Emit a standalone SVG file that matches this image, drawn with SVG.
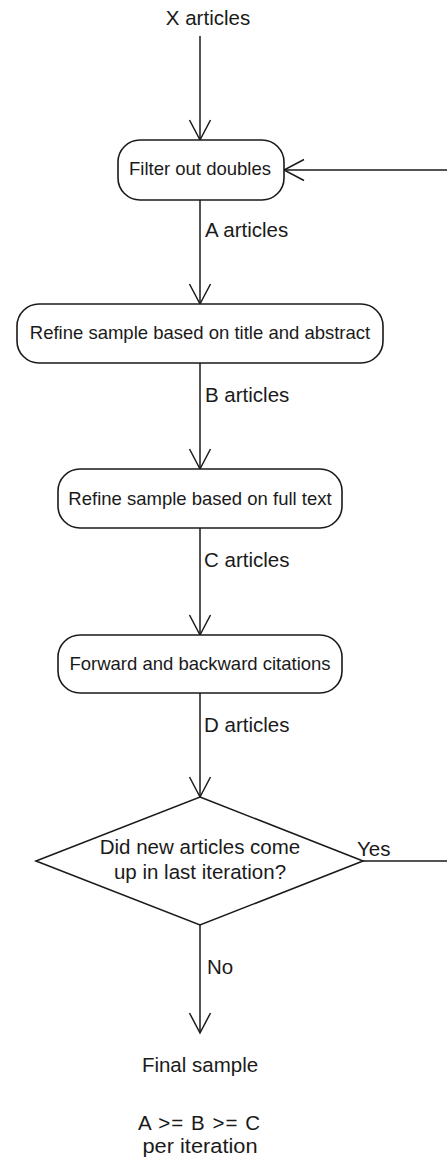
<svg xmlns="http://www.w3.org/2000/svg" width="447" height="1159" viewBox="0 0 447 1159">
<style>
.t{font-family:"Liberation Sans",Arial,sans-serif;font-size:20.5px;fill:#1a1a1a}
.b{font-size:18.5px}
.c{text-anchor:middle}
.n{fill:#fff;stroke:#1a1a1a;stroke-width:1.6}
.e{fill:none;stroke:#1a1a1a;stroke-width:1.5}
</style>
<defs>
<marker id="ah" markerWidth="24" markerHeight="24" refX="21" refY="12" orient="auto" markerUnits="userSpaceOnUse">
<path d="M1,1.5 L21,12 L1,22.5" fill="none" stroke="#1a1a1a" stroke-width="1.5"/>
</marker>
</defs>
<g id="connectors">
<line class="e" x1="200" y1="36" x2="200" y2="140" marker-end="url(#ah)"/>
<line class="e" x1="200" y1="200" x2="200" y2="304" marker-end="url(#ah)"/>
<line class="e" x1="200" y1="363" x2="200" y2="469" marker-end="url(#ah)"/>
<line class="e" x1="200" y1="528" x2="200" y2="635" marker-end="url(#ah)"/>
<line class="e" x1="200" y1="693" x2="200" y2="797" marker-end="url(#ah)"/>
<line class="e" x1="200" y1="925" x2="200" y2="1033" marker-end="url(#ah)"/>
<line class="e" x1="363" y1="861" x2="447" y2="861"/>
<line class="e" x1="447" y1="170" x2="284" y2="170" marker-end="url(#ah)"/>
<text class="t" x="205" y="237">A articles</text>
<text class="t" x="205" y="402">B articles</text>
<text class="t" x="204" y="567">C articles</text>
<text class="t" x="204" y="732">D articles</text>
<text class="t" x="357" y="856">Yes</text>
<text class="t" x="207" y="974">No</text>
</g>
<g id="start"><text class="t c" x="208" y="25">X articles</text></g>
<g id="filter">
<rect class="n" x="118" y="140" width="166" height="60" rx="22"/>
<text class="t b c" x="200" y="175">Filter out doubles</text>
</g>
<g id="refine-title">
<rect class="n" x="17" y="304" width="366" height="59" rx="22"/>
<text class="t b c" x="200" y="339">Refine sample based on title and abstract</text>
</g>
<g id="refine-full">
<rect class="n" x="58" y="469" width="284" height="59" rx="22"/>
<text class="t b c" x="200" y="505">Refine sample based on full text</text>
</g>
<g id="citations">
<rect class="n" x="58" y="635" width="284" height="58" rx="22"/>
<text class="t b c" x="200" y="670">Forward and backward citations</text>
</g>
<g id="decision">
<polygon class="n" points="200,797 363,861 200,925 36,861"/>
<text class="t c" x="200" y="854">Did new articles come</text>
<text class="t c" x="200" y="879">up in last iteration?</text>
</g>
<g id="final">
<text class="t c" x="200" y="1072">Final sample</text>
<text class="t c" x="199" y="1130" textLength="122" lengthAdjust="spacing">A &gt;= B &gt;= C</text>
<text class="t c" x="200" y="1153" textLength="115" lengthAdjust="spacingAndGlyphs">per iteration</text>
</g>
</svg>
